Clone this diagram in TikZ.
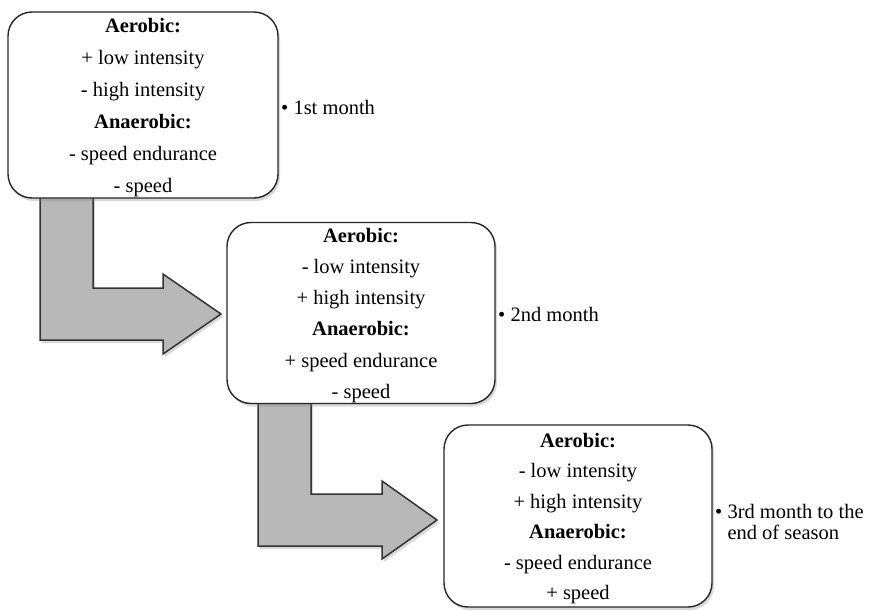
\documentclass[tikz,border=0pt]{standalone}
\usepackage{fontspec}
\setmainfont{Liberation Serif}
\usetikzlibrary{shadows}
\tikzset{
  phasebox/.style={draw=black!85, line width=1.4pt, fill=white, rounded corners=24pt,
    minimum width=268pt, inner sep=0pt, align=center,
    drop shadow={opacity=0.3, shadow xshift=2pt, shadow yshift=-3pt}},
  blockarrow/.style={draw=black!80, line width=1.5pt, fill=black!28, line join=miter,
    drop shadow={opacity=0.3, shadow xshift=2pt, shadow yshift=-3pt}},
  label/.style={anchor=west, align=left, inner sep=0pt, font=\fontsize{20.5}{21}\selectfont}
}
\newcommand{\topstrut}{\rule{0pt}{19pt}}
\begin{document}
\begin{tikzpicture}[x=1pt,y=-1pt]
\useasboundingbox (0,0) rectangle (869,610);
% block arrows (behind the boxes)
\draw[blockarrow] (40,192) -- (93,192) -- (93,288) -- (163,288) -- (163,274) -- (221,314)
  -- (163,354) -- (163,340) -- (40,340) -- cycle;
\draw[blockarrow] (258,396) -- (311,396) -- (311,494) -- (382,494) -- (382,481) -- (437,520)
  -- (382,559) -- (382,546) -- (258,546) -- cycle;
% boxes
\node[phasebox, minimum width=270pt, minimum height=186pt, font=\fontsize{20.5}{32}\selectfont] (b1) at (143,105)
  {\topstrut\textbf{Aerobic:}\\+ low intensity\\- high intensity\\\textbf{Anaerobic:}\\- speed endurance\\- speed};
\node[phasebox, minimum height=181pt, font=\fontsize{20.5}{31.3}\selectfont] (b2) at (361,313)
  {\topstrut\textbf{Aerobic:}\\- low intensity\\+ high intensity\\\textbf{Anaerobic:}\\+ speed endurance\\- speed};
\node[phasebox, minimum height=182pt, font=\fontsize{20.5}{30.5}\selectfont] (b3) at (578,516)
  {\topstrut\textbf{Aerobic:}\\- low intensity\\+ high intensity\\\textbf{Anaerobic:}\\- speed endurance\\+ speed};
% labels
\node[label] (l1) at (281,107) {\textbullet\ 1st month};
\node[label] (l2) at (498,314) {\textbullet\ 2nd month};
\node[label] (l3) at (715,522) {\textbullet\ 3rd month to the\\\phantom{\textbullet\ }end of season};
\end{tikzpicture}
\end{document}
